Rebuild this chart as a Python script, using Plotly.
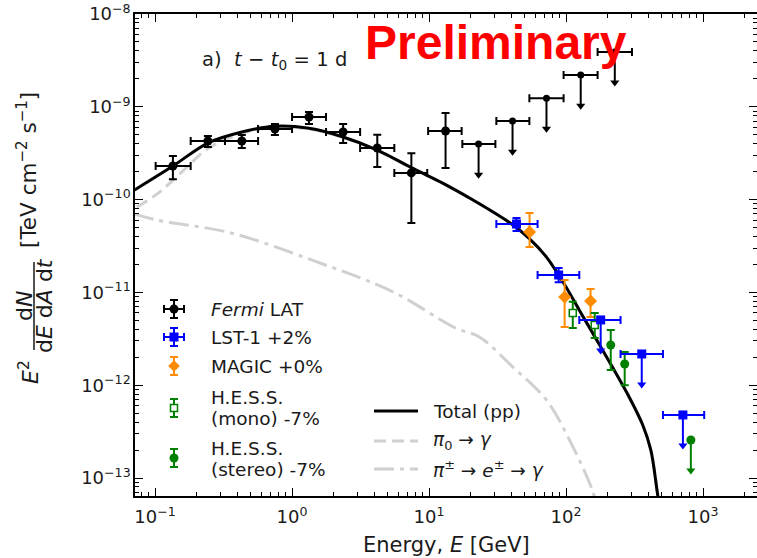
import plotly.graph_objects as go
import numpy as np

# ---------------- data ----------------
# Fermi LAT detections
fermi_E = [0.135, 0.243, 0.43, 0.75, 1.33, 2.36, 4.19, 7.43, 13.2]
fermi_Elo = [0.101, 0.182, 0.324, 0.565, 1.0, 1.77, 3.14, 5.58, 9.85]
fermi_Ehi = [0.182, 0.324, 0.565, 1.0, 1.77, 3.14, 5.58, 9.7, 17.3]
fermi_F = [2.3e-10, 4.28e-10, 4.28e-10, 5.77e-10, 7.76e-10, 5.35e-10, 3.6e-10, 1.94e-10, 5.48e-10]
fermi_Flo = [1.66e-10, 3.69e-10, 3.6e-10, 4.96e-10, 6.53e-10, 4.07e-10, 2.24e-10, 5.6e-11, 2.19e-10]
fermi_Fhi = [2.95e-10, 4.84e-10, 4.96e-10, 6.53e-10, 8.79e-10, 6.53e-10, 5.0e-10, 3.16e-10, 8.57e-10]
# Fermi LAT upper limits
fermi_ul_E = [23.0, 40.7, 72.0, 128.0, 227.0]
fermi_ul_Elo = [17.5, 31.0, 54.0, 96.0, 170.0]
fermi_ul_Ehi = [30.5, 54.0, 96.0, 170.0, 303.0]
fermi_ul_F = [3.97e-10, 7.03e-10, 1.24e-9, 2.2e-9, 3.9e-9]

# LST-1
lst_E = [43.5, 88.3]
lst_Elo = [31.0, 62.0]
lst_Ehi = [62.0, 125.0]
lst_F = [5.46e-11, 1.54e-11]
lst_Flo = [4.59e-11, 1.29e-11]
lst_Fhi = [6.34e-11, 1.83e-11]
lst_ul_E = [179.0, 357.0, 713.0]
lst_ul_Elo = [125.0, 250.0, 510.0]
lst_ul_Ehi = [250.0, 510.0, 1020.0]
lst_ul_F = [5.05e-12, 2.17e-12, 4.78e-13]

# MAGIC
magic_E = [54.2, 97.7, 151.0]
magic_F = [4.48e-11, 8.9e-12, 8.07e-12]
magic_Flo = [3.09e-11, 4.24e-12, 5.43e-12]
magic_Fhi = [7.18e-11, 1.36e-11, 1.09e-11]

# H.E.S.S. mono
hmono_E = [112.0, 162.0]
hmono_F = [6.0e-12, 4.46e-12]
hmono_Flo = [4.13e-12, 3.23e-12]
hmono_Fhi = [7.94e-12, 6.0e-12]

# H.E.S.S. stereo
hster_E = [212.0, 268.0]
hster_F = [2.71e-12, 1.69e-12]
hster_Flo = [1.46e-12, 1.0e-12]
hster_Fhi = [3.94e-12, 2.28e-12]
hster_ul_E = [815.0]
hster_ul_F = [2.57e-13]

# models
total_E = [0.0708, 0.135, 0.243, 0.43, 0.75, 1.33, 2.36, 4.19, 7.43, 13.2, 23.0, 40.7,
           54.0, 72.0, 96.0, 126.0, 167.0, 219.0, 292.0, 363.0, 416.0, 468.0, 520.0]
total_F = [1.27e-10, 2.30e-10, 4.07e-10, 5.35e-10, 6.17e-10, 5.86e-10, 4.73e-10, 3.42e-10,
           2.21e-10, 1.45e-10, 9.12e-11, 5.37e-11, 3.8e-11, 2.4e-11, 1.26e-11, 6.31e-12,
           3.09e-12, 1.55e-12, 7.24e-13, 3.72e-13, 2.0e-13, 6.4e-14, 2.5e-14]
pi0_E = [0.0735, 0.106, 0.162, 0.247, 0.43, 0.75, 1.33, 2.36, 4.19, 7.43, 13.2, 23.0,
         40.7, 54.0, 72.0, 96.0, 126.0, 167.0, 219.0, 292.0, 363.0, 416.0, 468.0, 520.0]
pi0_F = [8.3e-11, 1.18e-10, 2.08e-10, 3.6e-10, 5.15e-10, 6.02e-10, 5.76e-10, 4.66e-10, 3.37e-10,
         2.19e-10, 1.44e-10, 9.06e-11, 5.35e-11, 3.79e-11, 2.4e-11, 1.26e-11, 6.3e-12, 3.09e-12,
         1.55e-12, 7.24e-13, 3.72e-13, 2.0e-13, 6.4e-14, 2.5e-14]
sec_E = [0.0702, 0.103, 0.358, 1.52, 5.48, 15.6, 23.3, 40.7, 72.0, 106.0, 157.0, 176.0]
sec_F = [7.0e-11, 6.03e-11, 4.37e-11, 2.13e-11, 1.01e-11, 4.13e-12, 3.31e-12, 1.58e-12,
         6.92e-13, 2.57e-13, 7.08e-14, 3.55e-14]

xtick_vals = [1e-1, 1e0, 1e1, 1e2, 1e3]
xtick_text = ["10<sup>−1</sup>", "10<sup>0</sup>", "10<sup>1</sup>", "10<sup>2</sup>", "10<sup>3</sup>"]
ytick_vals = [1e-13, 1e-12, 1e-11, 1e-10, 1e-9, 1e-8]
ytick_text = ["10<sup>−13</sup>", "10<sup>−12</sup>", "10<sup>−11</sup>", "10<sup>−10</sup>",
              "10<sup>−9</sup>", "10<sup>−8</sup>"]

# ---------------- styling ----------------
W, H = 757, 558
L, R, T, B = 135, 0, 14, 62
FONT = "DejaVu Sans"
TXT = "#1a1a1a"
BLUE = "#0000ff"
ORANGE = "#ff8c00"
GREEN = "#008000"
GRAY = "#d0d0d0"
UL_DEX = 0.33  # arrow length of upper limits in decades


def PX(px):
    return (px - L) / (W - L - R)


def PY(py):
    return (H - B - py) / (H - T - B)


def minus(a, b):
    return [x - y for x, y in zip(a, b)]


fig = go.Figure()

# models
fig.add_trace(go.Scatter(x=sec_E, y=sec_F, mode="lines", line=dict(color=GRAY, width=3, dash="20px,6px,4px,6px"),
                         line_shape="spline", hoverinfo="skip"))
fig.add_trace(go.Scatter(x=pi0_E, y=pi0_F, mode="lines", line=dict(color=GRAY, width=3, dash="12px,6px"),
                         line_shape="spline", hoverinfo="skip"))
fig.add_trace(go.Scatter(x=total_E, y=total_F, mode="lines", line=dict(color="black", width=3),
                         line_shape="spline", hoverinfo="skip"))


def points(E, F, Flo, Fhi, color, symbol, size, Elo=None, Ehi=None, open_=False):
    ex = None
    if Elo is not None:
        ex = dict(type="data", symmetric=False, array=minus(Ehi, E), arrayminus=minus(E, Elo),
                  color=color, thickness=2, width=4)
    ey = dict(type="data", symmetric=False, array=minus(Fhi, F), arrayminus=minus(F, Flo),
              color=color, thickness=2, width=4)
    marker = dict(color="white" if open_ else color, symbol=symbol, size=size,
                  line=dict(color=color, width=1.5 if open_ else 0))
    fig.add_trace(go.Scatter(x=E, y=F, mode="markers", marker=marker, error_x=ex, error_y=ey))


def uplims(E, F, color, symbol, size, Elo=None, Ehi=None):
    tip = [f * 10 ** (-UL_DEX) for f in F]
    ex = None
    if Elo is not None:
        ex = dict(type="data", symmetric=False, array=minus(Ehi, E), arrayminus=minus(E, Elo),
                  color=color, thickness=2, width=4)
    ey = dict(type="data", symmetric=False, array=[0] * len(F), arrayminus=minus(F, tip),
              color=color, thickness=2, width=0)
    fig.add_trace(go.Scatter(x=E, y=tip, mode="markers",
                             marker=dict(color=color, symbol="triangle-down", size=8)))
    fig.add_trace(go.Scatter(x=E, y=F, mode="markers", marker=dict(color=color, symbol=symbol, size=size),
                             error_x=ex, error_y=ey))


points(fermi_E, fermi_F, fermi_Flo, fermi_Fhi, "black", "circle", 9, fermi_Elo, fermi_Ehi)
uplims(fermi_ul_E, fermi_ul_F, "black", "circle", 7, fermi_ul_Elo, fermi_ul_Ehi)
points(magic_E, magic_F, magic_Flo, magic_Fhi, ORANGE, "diamond", 10)
points(hmono_E, hmono_F, hmono_Flo, hmono_Fhi, GREEN, "square", 7, open_=True)
points(hster_E, hster_F, hster_Flo, hster_Fhi, GREEN, "circle", 9)
uplims(hster_ul_E, hster_ul_F, GREEN, "circle", 9)
points(lst_E, lst_F, lst_Flo, lst_Fhi, BLUE, "square", 9, lst_Elo, lst_Ehi)
uplims(lst_ul_E, lst_ul_F, BLUE, "square", 9, lst_ul_Elo, lst_ul_Ehi)

# ---------------- legend (drawn on a pixel overlay axis) ----------------
leg = [  # (y px, color, symbol, xerr?, open)
    (309, "black", "circle", True, False),
    (337, BLUE, "square", True, False),
    (366, ORANGE, "diamond", False, False),
    (408, GREEN, "square", False, True),
    (458, GREEN, "circle", False, False),
]
for yy, col, sym, hx, op in leg:
    fig.add_trace(go.Scatter(
        x=[174], y=[yy], xaxis="x2", yaxis="y2", mode="markers",
        marker=dict(color="white" if op else col, symbol=sym, size=(7 if op else 9),
                    line=dict(color=col, width=1.5 if op else 0)),
        error_x=dict(type="constant", value=10, color=col, thickness=2, width=4) if hx else None,
        error_y=dict(type="constant", value=9, color=col, thickness=2, width=4)))

for yy, dash in [(411, "solid"), (441, "12px,6px"), (469, "20px,6px,4px,6px")]:
    fig.add_trace(go.Scatter(x=[374, 418], y=[yy, yy], xaxis="x2", yaxis="y2", mode="lines",
                             line=dict(color="black" if dash == "solid" else GRAY, width=3, dash=dash)))

ann = []


def text(px, py, s, size=18, xanchor="left", color=TXT, angle=0, family=FONT):
    ann.append(dict(x=PX(px), y=PY(py), xref="paper", yref="paper", text=s, showarrow=False,
                    xanchor=xanchor, yanchor="middle", textangle=angle,
                    font=dict(family=family, size=size, color=color)))


text(209, 309, "<i>Fermi</i> LAT", size=18.5)
text(209, 337, "LST-1 +2%", size=18.5)
text(209, 366, "MAGIC +0%", size=18.5)
text(209, 397, "H.E.S.S.", size=18.5)
text(209, 418, "(mono) -7%", size=18.5)
text(209, 448, "H.E.S.S.", size=18.5)
text(209, 469, "(stereo) -7%", size=18.5)
text(431, 411, "Total (pp)", size=18.5)
text(431, 441, "<i>π</i><sub>0</sub> → <i>γ</i>", size=18.5)
text(431, 469, "<i>π</i><sup>±</sup> → <i>e</i><sup>±</sup> → <i>γ</i>", size=18.5)

text(200, 60, "a)  <i>t</i>\u2004−\u2004<i>t</i><sub>0</sub>\u2004=\u20041 d", size=19.5)
text(496, 42, "<b>Preliminary</b>", size=48, xanchor="center", color="#ff0000", family="Liberation Sans")

# axis titles
text(446, 545, "Energy, <i>E</i> [GeV]", size=21, xanchor="center")
text(29, 372, "<i>E</i><sup>2</sup>", size=22, xanchor="center", angle=-90)
text(24, 306, "d<i>N</i>", size=22, xanchor="center", angle=-90)
text(44, 306, "d<i>E</i> d<i>A</i> d<i>t</i>", size=22, xanchor="center", angle=-90)
text(27, 170, "[TeV cm<sup>−2</sup> s<sup>−1</sup>]", size=21.5, xanchor="center", angle=-90)

shapes = [dict(type="line", xref="paper", yref="paper", x0=PX(34), x1=PX(34), y0=PY(262), y1=PY(350),
               line=dict(color=TXT, width=1.5))]

xminor = [k * 10 ** n for n in range(-2, 4) for k in range(2, 10)]
yminor = [k * 10 ** n for n in range(-14, -8) for k in range(2, 10)]

axis_common = dict(showline=True, linecolor="black", linewidth=1.5, mirror="allticks",
                   ticks="inside", ticklen=8, tickwidth=1.2, tickcolor="black",
                   showgrid=False, zeroline=False,
                   tickfont=dict(family=FONT, size=18, color=TXT))

fig.update_layout(
    width=W, height=H, margin=dict(l=L, r=R, t=T, b=B, autoexpand=False),
    paper_bgcolor="white", plot_bgcolor="white", showlegend=False,
    xaxis=dict(type="log", range=[np.log10(0.0714), 3.394], tickvals=xtick_vals, ticktext=xtick_text,
               minor=dict(tickvals=xminor, ticks="inside", ticklen=4, tickwidth=1, tickcolor="black"),
               ticklabelstandoff=4, **axis_common),
    yaxis=dict(type="log", range=[-13.194, -8], tickvals=ytick_vals, ticktext=ytick_text,
               minor=dict(tickvals=yminor, ticks="inside", ticklen=4, tickwidth=1, tickcolor="black"),
               ticklabelstandoff=-1, **axis_common),
    xaxis2=dict(overlaying="x", range=[L, W - R], visible=False),
    yaxis2=dict(overlaying="y", range=[H - B, T], visible=False),
    annotations=ann, shapes=shapes,
)

fig.write_html("out.html")
